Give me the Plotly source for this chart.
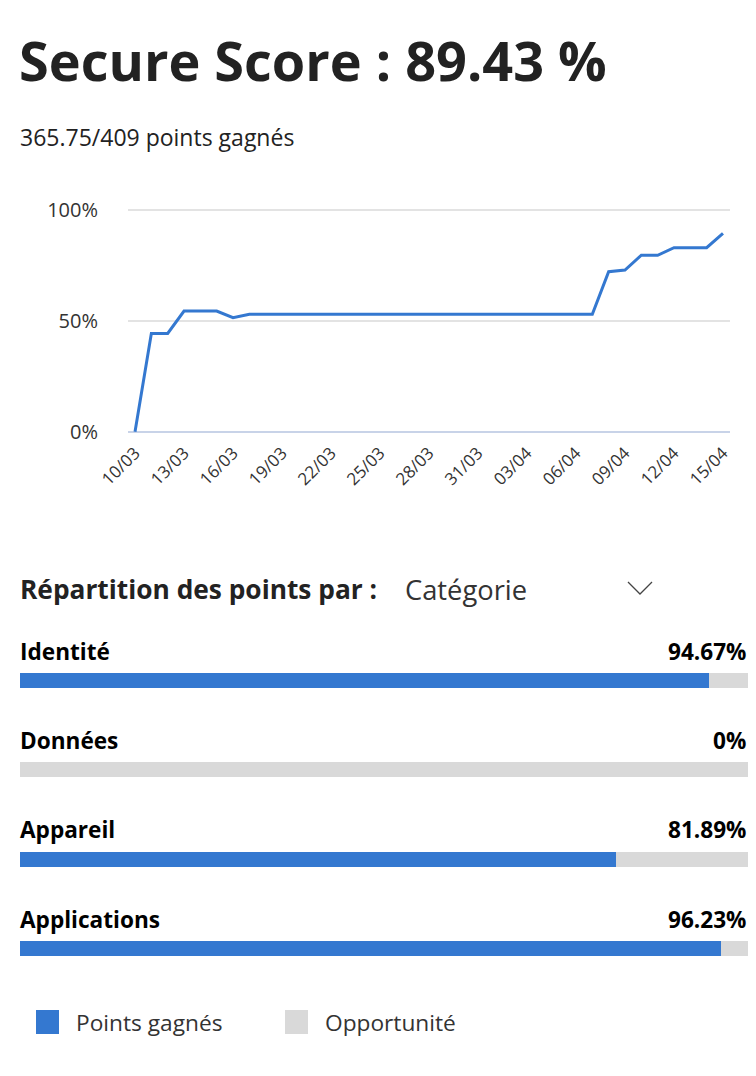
import plotly.graph_objects as go

# the page body keeps its default 8px margin, so the figure is drawn
# inside the window from (8, 8) and sized to avoid scrollbars
OFF = 8
W, H = 740, 1060
BLUE = "#3478D0"
GRAY = "#D9D9D9"
INK = "#222222"
FONT = "Open Sans"

POINTS_EARNED = 365.75
POINTS_TOTAL = 409

DATES = [
    "10/03", "11/03", "12/03", "13/03", "14/03", "15/03", "16/03", "17/03",
    "18/03", "19/03", "20/03", "21/03", "22/03", "23/03", "24/03", "25/03",
    "26/03", "27/03", "28/03", "29/03", "30/03", "31/03", "01/04", "02/04",
    "03/04", "04/04", "05/04", "06/04", "07/04", "08/04", "09/04", "10/04",
    "11/04", "12/04", "13/04", "14/04", "15/04",
]
SCORE = [
    0, 44.3, 44.3, 54.4, 54.4, 54.4, 51.4, 53.0,
    53.0, 53.0, 53.0, 53.0, 53.0, 53.0, 53.0, 53.0,
    53.0, 53.0, 53.0, 53.0, 53.0, 53.0, 53.0, 53.0,
    53.0, 53.0, 53.0, 53.0, 53.0, 72.2, 72.9, 79.6,
    79.6, 83.0, 83.0, 83.0, 89.43,
]
TICK_DATES = ["10/03", "13/03", "16/03", "19/03", "22/03", "25/03", "28/03",
              "31/03", "03/04", "06/04", "09/04", "12/04", "15/04"]
Y_TICKS = [0, 50, 100]
Y_TICK_TEXT = ["0%", "50%", "100%"]

CATEGORIES = ["Identité", "Données", "Appareil", "Applications"]
EARNED_PCT = [94.67, 0, 81.89, 96.23]
LEGEND = ["Points gagnés", "Opportunité"]


def px(x):
    # window pixel -> paper fraction
    return (x - OFF) / W


def py(y):
    return 1 - (y - OFF) / H


rows = list(range(len(CATEGORIES)))
opportunity = [100 - v for v in EARNED_PCT]

fig = go.Figure()
fig.add_trace(go.Scatter(
    x=DATES, y=SCORE, mode="lines",
    line=dict(color=BLUE, width=3),
    xaxis="x", yaxis="y", hoverinfo="x+y",
))
fig.add_trace(go.Bar(
    x=EARNED_PCT, y=rows, orientation="h", width=0.168,
    marker=dict(color=BLUE, line=dict(width=0)),
    xaxis="x2", yaxis="y2", name=LEGEND[0],
))
fig.add_trace(go.Bar(
    x=opportunity, y=rows, orientation="h", width=0.168,
    marker=dict(color=GRAY, line=dict(width=0)),
    xaxis="x2", yaxis="y2", name=LEGEND[1],
))

annotations = [
    dict(text=f"<b>Secure Score : {SCORE[-1]} %</b>", x=px(17), y=py(60),
         xanchor="left", yanchor="middle", font=dict(size=54, color=INK)),
    dict(text=f"{POINTS_EARNED}/{POINTS_TOTAL} points gagnés", x=px(18), y=py(137),
         xanchor="left", yanchor="middle", font=dict(size=23, color=INK)),
    dict(text="<b>Répartition des points par :</b>", x=px(18), y=py(589),
         xanchor="left", yanchor="middle", font=dict(size=26.3, color=INK)),
    dict(text="Catégorie", x=px(403), y=py(589),
         xanchor="left", yanchor="middle", font=dict(size=27.3, color="#333333")),
]
for i, (cat, v) in enumerate(zip(CATEGORIES, EARNED_PCT)):
    annotations.append(dict(
        text=f"<b>{cat}</b>", x=px(18), xref="paper", y=i, yref="y2",
        xanchor="left", yanchor="middle", yshift=29.5,
        font=dict(size=22.6, color="#000000"),
    ))
    annotations.append(dict(
        text=f"<b>{v:g}%</b>", x=px(748), xref="paper", y=i, yref="y2",
        xanchor="right", yanchor="middle", yshift=29.5,
        font=dict(size=22.6, color="#000000"),
    ))

shapes = [
    # dropdown chevron
    dict(type="path", xref="paper", yref="paper",
         path=f"M {px(628)} {py(582)} L {px(640)} {py(594)} L {px(652)} {py(582)}",
         line=dict(color="#444444", width=1.3)),
]
legend_x = [36, 285]
for lx, name, col in zip(legend_x, LEGEND, [BLUE, GRAY]):
    shapes.append(dict(type="rect", xref="paper", yref="paper",
                       x0=px(lx), x1=px(lx + 23), y0=py(1034), y1=py(1010),
                       fillcolor=col, line=dict(width=0)))
    annotations.append(dict(text=name, x=px(lx + 38), y=py(1022),
                            xanchor="left", yanchor="middle",
                            font=dict(size=22.7, color="#333333")))

for a in annotations:
    a.setdefault("xref", "paper")
    a.setdefault("yref", "paper")
    a["showarrow"] = False

fig.update_layout(
    width=W, height=H,
    margin=dict(l=0, r=0, t=0, b=0, autoexpand=False),
    paper_bgcolor="white", plot_bgcolor="white",
    font=dict(family=FONT, color="#333333"),
    showlegend=False,
    barmode="stack",
    annotations=annotations,
    shapes=shapes,
    xaxis=dict(
        type="category", domain=[px(128), px(730)], range=[-0.43, 36.43],
        tickmode="array", tickvals=TICK_DATES, ticktext=TICK_DATES,
        tickangle=-45, tickfont=dict(size=17, color="#333333"),
        showgrid=False, showline=False, zeroline=False, ticks="",
        anchor="y", automargin=False, ticklabelstandoff=5,
    ),
    yaxis=dict(
        domain=[py(433.9), py(207.8)], range=[-1, 101],
        tickmode="array", tickvals=Y_TICKS, ticktext=Y_TICK_TEXT,
        tickfont=dict(size=20, color="#333333"),
        showgrid=True, gridcolor="#E3E3E3", gridwidth=1.5,
        zeroline=True, zerolinecolor="#C8D3E8", zerolinewidth=2,
        showline=False, ticks="", ticklabelstandoff=29,
        anchor="x", automargin=False,
    ),
    xaxis2=dict(
        domain=[px(20), 1.0], range=[0, 100],
        showgrid=False, showline=False, zeroline=False,
        showticklabels=False, ticks="", anchor="y2", automargin=False,
    ),
    yaxis2=dict(
        domain=[py(1002.1), py(626.9)], range=[3.6, -0.6],
        showgrid=False, showline=False, zeroline=False,
        showticklabels=False, ticks="", anchor="x2", automargin=False,
    ),
)

fig.write_html("out.html")
